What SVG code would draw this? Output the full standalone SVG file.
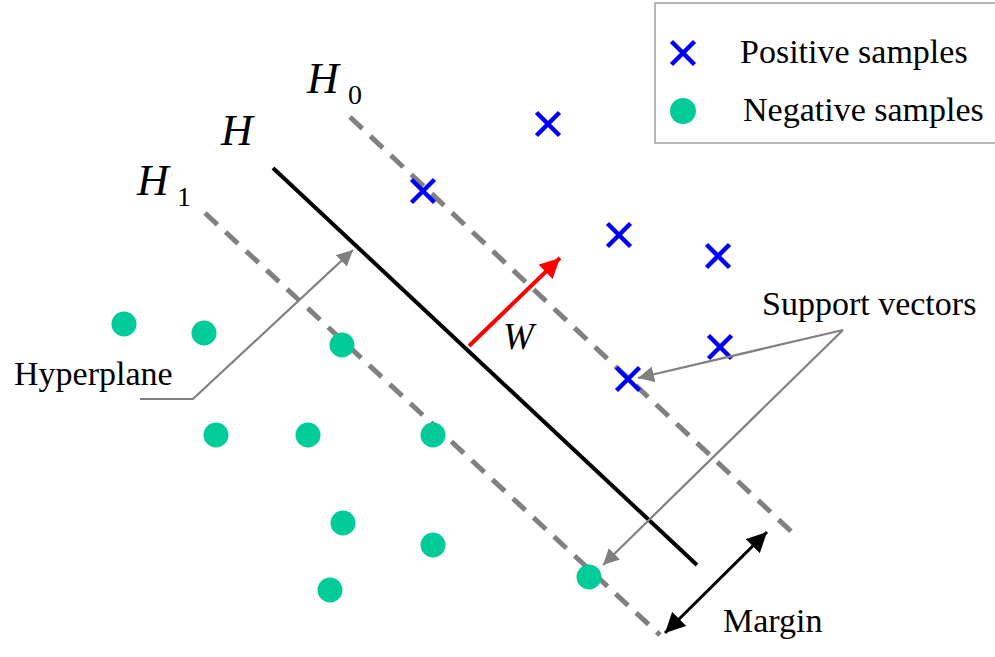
<svg xmlns="http://www.w3.org/2000/svg" width="995" height="657" viewBox="0 0 995 657">
<style>
.dash{stroke:#808080;stroke-width:5;stroke-dasharray:17 11;fill:none}
.lead{stroke:#808080;stroke-width:2.2;fill:none}
.pos{stroke:#0000ff;stroke-width:4.5;fill:none}
.neg{fill:#00cc99}
.t{font-family:"Liberation Serif","Times New Roman",serif;font-size:34px;fill:#000}
.ti{font-family:"Liberation Serif","Times New Roman",serif;font-style:italic;font-size:44px;fill:#000}
.sub{font-family:"Liberation Serif","Times New Roman",serif;font-size:28px;fill:#000}
</style>
<defs>
<marker id="ag2" viewBox="0 0 10 10" refX="10" refY="5" markerWidth="16" markerHeight="16" markerUnits="userSpaceOnUse" orient="auto"><path d="M0,0L10,5L0,10z" fill="#808080"/></marker>
<marker id="ar" viewBox="0 0 10 10" refX="10" refY="5" markerWidth="20" markerHeight="20" markerUnits="userSpaceOnUse" orient="auto"><path d="M0,0L10,5L0,10z" fill="#ff0000"/></marker>
<marker id="ak" viewBox="0 0 10 10" refX="10" refY="5" markerWidth="20" markerHeight="20" markerUnits="userSpaceOnUse" orient="auto-start-reverse"><path d="M0,0L10,5L0,10z" fill="#000"/></marker>
<g id="xm"><path d="M-11.5,-11.5L11.5,11.5M11.5,-11.5L-11.5,11.5"/></g>
</defs>

<g id="legend">
<rect x="655" y="3" width="345" height="140" fill="#fff" stroke="#a0a0a0" stroke-width="1.5"/>
<use href="#xm" x="683" y="53" class="pos"/>
<text class="t" x="740" y="63">Positive samples</text>
<circle class="neg" cx="683" cy="111" r="13"/>
<text class="t" x="743" y="121">Negative samples</text>
</g>

<g id="planes">
<line id="H" x1="273" y1="168" x2="697" y2="565" stroke="#000" stroke-width="4"/>
<line id="H0" class="dash" x1="350" y1="117" x2="795" y2="535"/>
<line id="H1" class="dash" x1="205" y1="213" x2="660" y2="635"/>
</g>

<g id="labels">
<text class="ti" x="307" y="93">H</text><text class="sub" x="348" y="104">0</text>
<text class="ti" x="221" y="145">H</text>
<text class="ti" x="137" y="195">H</text><text class="sub" x="177" y="206">1</text>
<text class="ti" x="503" y="349" style="font-size:37px">W</text>
<text class="t" x="14" y="385">Hyperplane</text>
<text class="t" x="762" y="315">Support vectors</text>
<text class="t" x="723" y="632">Margin</text>
</g>

<g id="positives" class="pos">
<use href="#xm" x="548" y="124"/>
<use href="#xm" x="423" y="191"/>
<use href="#xm" x="619" y="235"/>
<use href="#xm" x="718" y="256"/>
<use href="#xm" x="720" y="347"/>
<use href="#xm" x="628" y="379"/>
</g>

<g id="negatives" class="neg">
<circle cx="124" cy="324" r="12.5"/>
<circle cx="204" cy="333" r="12.5"/>
<circle cx="342" cy="345" r="12.5"/>
<circle cx="216" cy="435" r="12.5"/>
<circle cx="308" cy="435" r="12.5"/>
<circle cx="433" cy="435" r="12.5"/>
<circle cx="343" cy="523" r="12.5"/>
<circle cx="433" cy="545" r="12.5"/>
<circle cx="330" cy="590" r="12.5"/>
<circle cx="589" cy="577" r="12.5"/>
</g>

<g id="connectors">
<line x1="469" y1="346" x2="560" y2="258" stroke="#ff0000" stroke-width="4" marker-end="url(#ar)"/>
<line x1="665" y1="633" x2="767" y2="532" stroke="#000" stroke-width="3" marker-start="url(#ak)" marker-end="url(#ak)"/>
<polyline class="lead" points="140,399 193,399 353,250" marker-end="url(#ag2)"/>
<line class="lead" x1="843" y1="330" x2="638" y2="378" marker-end="url(#ag2)"/>
<line class="lead" x1="843" y1="330" x2="603" y2="565" marker-end="url(#ag2)"/>
</g>
</svg>
